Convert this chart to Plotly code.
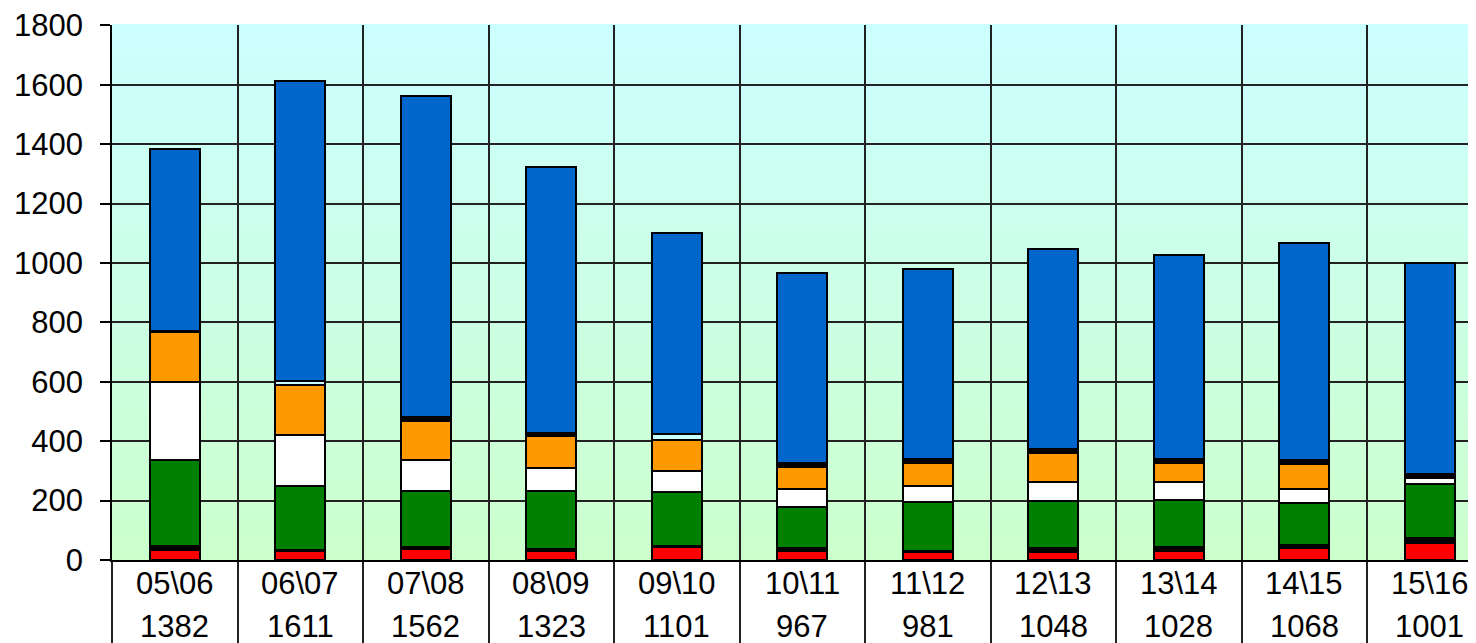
import plotly.graph_objects as go

temporadas = ["05\\06", "06\\07", "07\\08", "08\\09", "09\\10", "10\\11",
              "11\\12", "12\\13", "13\\14", "14\\15", "15\\16"]
totales = [1382, 1611, 1562, 1323, 1101, 967, 981, 1048, 1028, 1068, 1001]

rojo = [34, 30, 36, 30, 43, 31, 28, 28, 31, 39, 58]
negro = [13, 4, 9, 6, 5, 8, 3, 11, 12, 11, 15]
verde = [289, 216, 188, 196, 180, 140, 165, 160, 159, 141, 183]
blanco = [262, 170, 103, 78, 72, 59, 53, 64, 61, 48, 19]
naranja = [169, 169, 133, 107, 104, 76, 78, 98, 64, 84, 0]
franja = [5, 13, 13, 10, 20, 13, 13, 11, 13, 13, 14]
azul = [610, 1009, 1080, 896, 677, 640, 641, 676, 688, 732, 712]

x = list(range(len(temporadas)))
fuente = "Liberation Sans, Arial, sans-serif"

colores_franja = ["#000000", "#CCFFFF", "#000000", "#000000", "#CCFFFF", "#000000",
                  "#000000", "#000000", "#000000", "#000000", "#000000"]

series = [
    (rojo, "#FF0000"),
    (negro, "#000000"),
    (verde, "#008000"),
    (blanco, "#FFFFFF"),
    (naranja, "#FF9900"),
    (franja, colores_franja),
    (azul, "#0066CC"),
]

fig = go.Figure()
for valores, color in series:
    fig.add_trace(go.Bar(x=x, y=valores, width=0.4,
                         marker=dict(color=color, line=dict(color="black", width=2)),
                         showlegend=False, hoverinfo="skip"))

# fondo degradado (verde claro abajo, cian claro arriba)
n = 80
for i in range(n):
    t = i / (n - 1)
    b = int(round(204 + (255 - 204) * t))
    fig.add_shape(type="rect", xref="paper", yref="paper", x0=0, x1=1,
                  y0=i / n, y1=(i + 1) / n + 0.002, layer="below",
                  line=dict(width=0), fillcolor=f"rgb(204,255,{b})")

for i, (t, tot) in enumerate(zip(temporadas, totales)):
    fig.add_annotation(x=i, y=0, xref="x", yref="paper", text=t, showarrow=False,
                       yanchor="middle", yshift=-23, font=dict(size=31, color="black", family=fuente))
    fig.add_annotation(x=i, y=0, xref="x", yref="paper", text=str(tot), showarrow=False,
                       yanchor="middle", yshift=-66, font=dict(size=31, color="black", family=fuente))

# la página deja 8 px de margen en el body, se compensa aquí
unidad = 125.5
ancho_plot = 1476 - 112
fig.update_layout(
    width=1468, height=635,
    margin=dict(l=104, r=0, t=17, b=83),
    barmode="stack",
    paper_bgcolor="white",
    plot_bgcolor="#CCFFE6",
    font=dict(family=fuente, size=30, color="black"),
    xaxis=dict(range=[-0.5, -0.5 + ancho_plot / unidad], showgrid=False,
               showticklabels=False, ticks="", zeroline=False, automargin=False,
               showline=True, linecolor="black", linewidth=1.5,
               minor=dict(tick0=0.5, dtick=1, showgrid=True, gridcolor="#222222",
                          gridwidth=1.5, ticks="outside", ticklen=90,
                          tickcolor="#222222", tickwidth=1.5)),
    yaxis=dict(range=[0, 1801], tickvals=list(range(0, 1801, 200)),
               showgrid=True, gridcolor="#222222", gridwidth=1.5, automargin=False,
               ticks="outside", ticklen=10, tickcolor="black", tickwidth=1.5,
               showline=True, linecolor="black", linewidth=1.5, zeroline=False,
               ticklabelstandoff=11, tickfont=dict(size=31, color="black")),
)

fig.write_html("out.html")
